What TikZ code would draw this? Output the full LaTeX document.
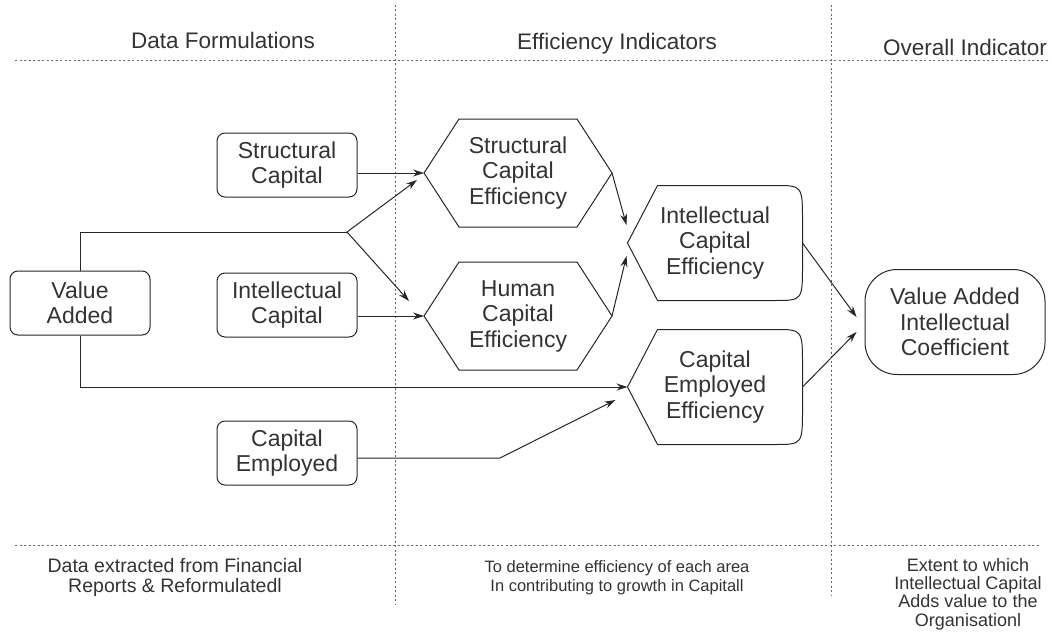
\documentclass[tikz,border=0pt]{standalone}
\usepackage{fontspec}
\setmainfont{Liberation Sans}
\usepackage{tikz}
\usetikzlibrary{arrows.meta}

\begin{document}
\begin{tikzpicture}[x=1pt,y=-1pt,line width=1pt,
  font=\fontsize{23}{25.5}\selectfont,text=black!80,draw=black!85,
  box/.style={draw,rounded corners=8pt,minimum width=140pt,minimum height=64pt,
    align=center,inner sep=0pt},
  shp/.style={minimum width=187pt,minimum height=107pt,align=center,inner sep=0pt},
  arr/.style={-{Stealth[length=11pt,width=7pt]}},
  sep/.style={draw=black!60,line width=0.9pt,dash pattern=on 2pt off 2.5pt},
  head/.style={font=\fontsize{22.5}{25}\selectfont},
  note/.style={font=\fontsize{16.5}{18.7}\selectfont,align=center}]
  \useasboundingbox (0,0) rectangle (1052,634);
  % ---- column rules ----
  \draw[sep] (15,60) -- (1050,60);
  \draw[sep] (15,545) -- (1040,545);
  \draw[sep] (395,5) -- (395,605);
  \draw[sep] (831,5) -- (831,595);
  \node[head] (hdata) at (223,40) {Data Formulations};
  \node[head] (heff)  at (617,44) {Efficiency Indicators};
  \node[head] (hall)  at (965,47) {Overall Indicator};
  % ---- data formulations ----
  \node[box] (sc) at (287,165) {Structural\\Capital};
  \node[box] (ic) at (287,305) {Intellectual\\Capital};
  \node[box] (ce) at (287,453) {Capital\\Employed};
  \node[box] (va) at (80,303)  {Value\\Added};
  % ---- efficiency indicators ----
  \node[shp] (sce) at (518,173) {Structural\\Capital\\Efficiency};
  \node[shp] (hce) at (518,316) {Human\\Capital\\Efficiency};
  \node[shp,minimum width=174pt,minimum height=114pt] (ice) at (715,243)
    {Intellectual\\Capital\\Efficiency};
  \node[shp,minimum width=174pt,minimum height=114pt] (cee) at (715,387)
    {Capital\\Employed\\Efficiency};
  \foreach \n in {sce,hce}
    \draw (\n.west) -- ([xshift=35pt]\n.north west) -- ([xshift=-35pt]\n.north east)
      -- (\n.east) -- ([xshift=-35pt]\n.south east) -- ([xshift=35pt]\n.south west) -- cycle;
  \foreach \n in {ice,cee}
    \draw (\n.west) -- ([xshift=30pt]\n.north west) -- ([xshift=-28pt]\n.north east)
      .. controls (\n.north east) .. ([yshift=-36pt]\n.north east)
      -- ([yshift=36pt]\n.south east)
      .. controls (\n.south east) .. ([xshift=-28pt]\n.south east)
      -- ([xshift=30pt]\n.south west) -- cycle;
  % ---- overall indicator ----
  \node[draw,rounded corners=32pt,minimum width=180pt,minimum height=105pt,
    align=center,inner sep=0pt] (vaic) at (955,322)
    {Value Added\\Intellectual\\Coefficient};
  % ---- connectors ----
  \coordinate (j1) at (347,232);
  \coordinate (j2) at (500,458);
  \draw[arr] (sc.east |- sce.west) -- (sce.west);
  \draw[arr] (ic.east |- hce.west) -- (hce.west);
  \draw (va.north) |- (j1);
  \draw[arr] (j1) -- ([shift={(-7,7)}]sce.west);
  \draw[arr] (j1) -- ([shift={(-15,-15)}]hce.west);
  \draw[arr] (va.south) |- (cee.west);
  \draw[arr] (ce.east |- j2) -- (j2) -- ([shift={(-12,13)}]cee.west);
  \draw[arr] (sce.east) -- ([shift={(-1,-18)}]ice.west);
  \draw[arr] (hce.east) -- ([shift={(-1,13)}]ice.west);
  \draw[arr] (ice.east) -- ([shift={(-8,-5)}]vaic.west);
  \draw[arr] (cee.east) -- ([shift={(-8,10)}]vaic.west);
  % ---- notes ----
  \node[note,font=\fontsize{19.5}{20}\selectfont] (ndata) at (175,577)
    {Data extracted from Financial\\Reports \& Reformulatedl};
  \node[note] (neff) at (617,578)
    {To determine efficiency of each area\\In contributing to growth in Capitall};
  \node[note,font=\fontsize{18}{18.3}\selectfont] (nall) at (968,594)
    {Extent to which\\Intellectual Capital\\Adds value to the\\Organisationl};
\end{tikzpicture}
\end{document}
